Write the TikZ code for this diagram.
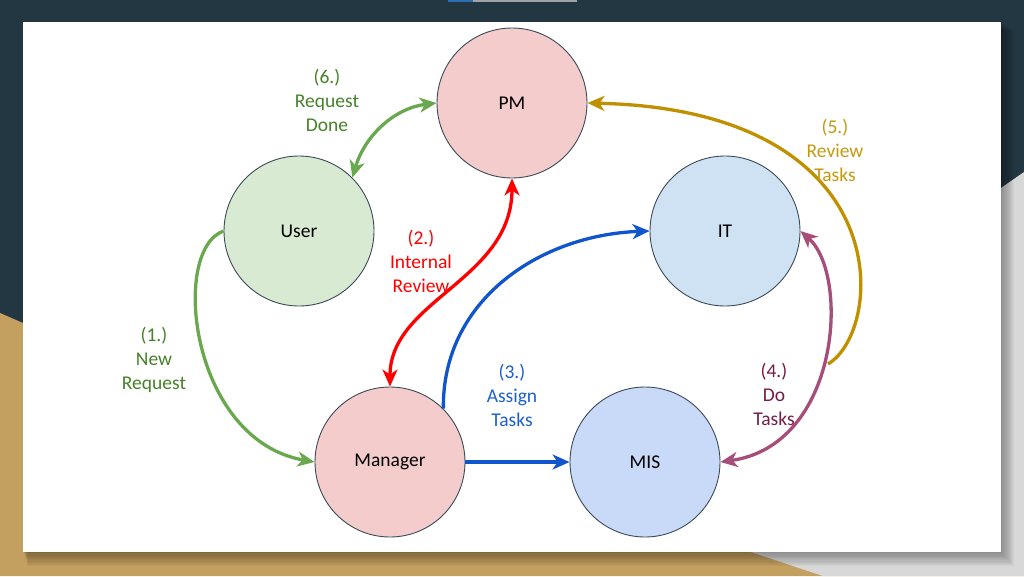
\documentclass[tikz,border=0pt]{standalone}
\usepackage{fontspec}
\setmainfont{Carlito}
\usetikzlibrary{arrows.meta}
\definecolor{navy}{HTML}{233743}
\definecolor{tan}{HTML}{C4A060}
\definecolor{lgray}{HTML}{D8D8D8}
\definecolor{stripblue}{HTML}{2A6FB0}
\definecolor{stripgray}{HTML}{A0A4A8}
\definecolor{nodeline}{HTML}{3C4A57}
\definecolor{pinkfill}{HTML}{F4CCCC}
\definecolor{greenfill}{HTML}{D9EAD3}
\definecolor{itfill}{HTML}{CFE2F3}
\definecolor{misfill}{HTML}{C9DAF8}
\definecolor{garrow}{HTML}{6AA84F}
\definecolor{gtext}{HTML}{46822A}
\definecolor{rarrow}{HTML}{FF0000}
\definecolor{barrow}{HTML}{1155CC}
\definecolor{btext}{HTML}{1C5FD0}
\definecolor{parrow}{HTML}{A64D79}
\definecolor{ptext}{HTML}{741B47}
\definecolor{oarrow}{HTML}{BF9000}
\definecolor{otext}{HTML}{C49A10}
\begin{document}
\begin{tikzpicture}[x=1pt,y=-1pt,
  state/.style={circle,draw=nodeline,line width=0.9pt,minimum size=150pt,inner sep=0pt,
    font=\fontsize{19.5}{23.5}\selectfont},
  lbl/.style={align=center,font=\fontsize{19.5}{24}\selectfont},
  conn/.style={line width=3.3pt},
  headend/.style={-{Stealth[length=17pt,width=15pt,inset=5pt]}},
  headboth/.style={{Stealth[length=17pt,width=15pt,inset=5pt]}-{Stealth[length=17pt,width=15pt,inset=5pt]}}
]
\useasboundingbox (0,0) rectangle (1024,576);
% slide background
\fill[navy] (0,0) rectangle (1024,576);
\fill[tan] (0,313) -- (23,323) -- (900,552) -- (1024,576) -- (0,576) -- cycle;
\fill[lgray] (1024,172) -- (1001,188) -- (700,535) -- (823,576) -- (1024,576) -- cycle;
\fill[stripblue] (448,0) rectangle (473,1.6);
\fill[stripgray] (473,0) rectangle (577,1.6);
% panel shadow
\foreach \i in {1,...,12}{
  \fill[black,opacity=0.03] (23+0.4*\i,22+0.7*\i) rectangle (1001+1.1*\i,552+1.2*\i);
}
% white panel
\fill[white] (23,22) rectangle (1001,552);

% nodes
\node[state,fill=pinkfill]  (pm)      at (512,103) {PM};
\node[state,fill=greenfill] (user)    at (299,231) {User};
\node[state,fill=itfill]    (it)      at (725,231) {IT};
\node[state,fill=pinkfill]  (manager) at (390,462) {Manager};
\node[state,fill=misfill]   (mis)     at (645,462) {MIS};
\coordinate (goldstart) at (828,364);

% connectors
\draw[conn,garrow,headend] (user.west) .. controls (170,250) and (190,440) .. (manager.west);
\draw[conn,rarrow,headboth] (manager.north) .. controls (390,300) and (512,280) .. (pm.south);
\draw[conn,barrow,headend] (manager.east) -- (mis.west);
\draw[conn,barrow,headend] (manager.45) .. controls (442,300) and (540,235) .. (it.west);
\draw[conn,parrow,headboth] (mis.east) .. controls (840,445) and (850,275) .. (it.east);
\draw[conn,oarrow,headend] (goldstart) .. controls (885,330) and (900,110) .. (pm.east);
\draw[conn,garrow,headboth] (user.45) .. controls (365,135) and (395,108) .. (pm.west);

% labels
\node[lbl,text=gtext] (l1) at (154,360) {(1.)\\New\\Request};
\node[lbl,text=rarrow] (l2) at (421,261) {(2.)\\Internal\\Review};
\node[lbl,text=btext] (l3) at (512,395) {(3.)\\Assign\\Tasks};
\node[lbl,text=ptext] (l4) at (774,394) {(4.)\\Do\\Tasks};
\node[lbl,text=otext] (l5) at (835,150) {(5.)\\Review\\Tasks};
\node[lbl,text=gtext] (l6) at (327,100) {(6.)\\Request\\Done};
\end{tikzpicture}
\end{document}
